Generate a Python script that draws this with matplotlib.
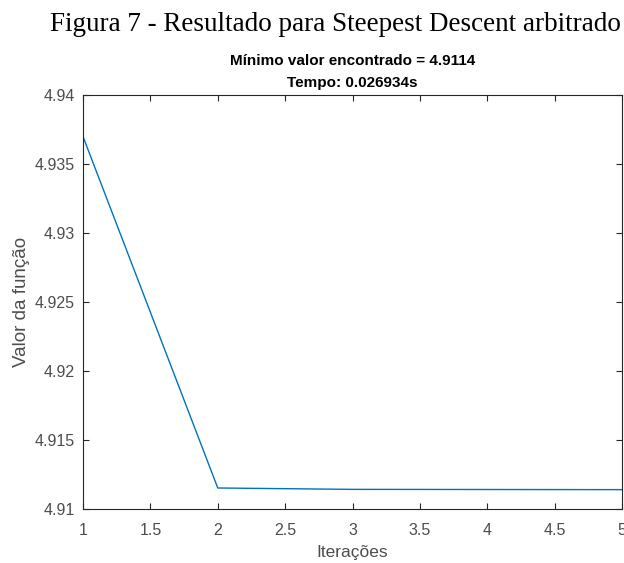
import numpy as np
import matplotlib.pyplot as plt

# dados
iteracoes = [1, 2, 3, 4, 5]
valores = [4.9370, 4.91152, 4.91142, 4.91141, 4.9114]
xticks = [1, 1.5, 2, 2.5, 3, 3.5, 4, 4.5, 5]
yticks = [4.91, 4.915, 4.92, 4.925, 4.93, 4.935, 4.94]

plt.rcParams['font.family'] = ['Liberation Sans', 'DejaVu Sans']

fig = plt.figure(figsize=(6.24, 5.63), dpi=100)
ax = fig.add_axes([0.133, 0.096, 0.864, 0.735])

ax.plot(iteracoes, valores, color='#0072BD', linewidth=1.0)

ax.set_xlim(1, 5)
ax.set_ylim(4.91, 4.94)
ax.set_xticks(xticks)
ax.set_xticklabels(['1', '1.5', '2', '2.5', '3', '3.5', '4', '4.5', '5'])
ax.set_yticks(yticks)
ax.set_yticklabels(['4.91', '4.915', '4.92', '4.925', '4.93', '4.935', '4.94'])

for s in ax.spines.values():
    s.set_color('#262626')
    s.set_linewidth(0.8)
ax.tick_params(direction='in', top=True, right=True, length=4, width=0.8,
               colors='#262626', labelsize=11.5, labelcolor='#4d4d4d')
ax.tick_params(axis='x', pad=10)
ax.tick_params(axis='y', pad=6)

ax.set_xlabel('Iterações', fontsize=12.5, color='#4d4d4d', labelpad=5)
ax.set_ylabel('Valor da função', fontsize=13.5, color='#4d4d4d', labelpad=3)
ax.set_title('Mínimo valor encontrado = 4.9114\nTempo: 0.026934s',
             fontsize=11, fontweight='bold', color='black', pad=6, linespacing=1.75)

fig.text(0.538, 0.956, 'Figura 7 - Resultado para Steepest Descent arbitrado',
         ha='center', va='center', fontsize=19.5, family=['Liberation Serif'])

fig.savefig('out.png', dpi=100)
